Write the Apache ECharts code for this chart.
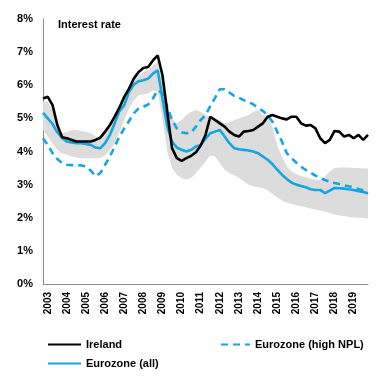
<!DOCTYPE html>
<html>
<head>
<meta charset="utf-8">
<script src="https://cdn.jsdelivr.net/npm/echarts@6/dist/echarts.min.js"></script>
<style>html,body{margin:0;padding:0;background:#fff;}#c{width:381px;height:378px;}</style>
</head>
<body>
<div id="c"></div>
<script>
// Quarterly observations, 2003Q1 .. 2020Q1
const years = [2003,2004,2005,2006,2007,2008,2009,2010,2011,2012,2013,2014,2015,2016,2017,2018,2019,2020];
const quarters = ['Q1','Q2','Q3','Q4'];
const yTicks = [0,1,2,3,4,5,6,7,8];

const ireland = [
5.6,5.65,5.4,4.8,
4.43,4.4,4.35,4.3,
4.3,4.3,4.3,4.35,
4.42,4.6,4.8,5.05,
5.33,5.65,5.9,6.2,
6.4,6.52,6.55,6.75,
6.9,6.3,5.2,4.1,
3.8,3.72,3.8,3.87,
3.98,4.18,4.5,5.05,
4.95,4.85,4.75,4.6,
4.5,4.45,4.6,4.62,
4.65,4.75,4.85,5.05,
5.1,5.05,5.0,4.97,
5.05,5.05,4.85,4.78,
4.8,4.7,4.4,4.25,
4.35,4.62,4.6,4.45,
4.5,4.4,4.5,4.35,
4.5];

const euroAll = [
5.17,5.0,4.83,4.58,
4.4,4.3,4.27,4.25,
4.25,4.23,4.2,4.12,
4.1,4.25,4.5,4.85,
5.22,5.4,5.8,6.02,
6.12,6.15,6.2,6.35,
6.45,5.6,4.75,4.3,
4.12,4.05,4.0,4.05,
4.15,4.2,4.38,4.55,
4.6,4.65,4.45,4.25,
4.1,4.07,4.05,4.03,
4.0,3.95,3.85,3.75,
3.62,3.45,3.3,3.17,
3.06,3.0,2.96,2.92,
2.86,2.84,2.84,2.74,
2.82,2.9,2.89,2.88,
2.86,2.84,2.8,2.78,
2.74];

const euroHighNPL = [
4.4,4.2,3.95,3.77,
3.65,3.6,3.59,3.59,
3.58,3.55,3.42,3.25,
3.35,3.6,3.85,4.15,
4.45,4.7,4.92,5.15,
5.3,5.35,5.42,5.6,
5.85,5.75,5.35,4.95,
4.7,4.58,4.55,4.57,
4.75,4.95,5.1,5.37,
5.62,5.88,5.88,5.78,
5.68,5.62,5.55,5.5,
5.42,5.32,5.22,5.1,
4.9,4.6,4.3,3.95,
3.8,3.66,3.54,3.44,
3.36,3.27,3.2,3.14,
3.09,3.05,3.02,2.98,
2.95,2.91,2.87,2.83,
2.79];

const bandUpper = [
5.5,5.5,5.25,4.8,
4.55,4.6,4.65,4.65,
4.62,4.6,4.55,4.45,
4.42,4.55,4.75,5.0,
5.3,5.6,5.85,6.1,
6.3,6.4,6.45,6.6,
6.7,6.1,5.4,5.0,
4.85,4.95,5.1,5.2,
5.25,5.2,5.1,5.05,
5.0,4.95,4.85,4.88,
4.95,5.0,5.05,5.1,
5.2,5.25,5.1,5.05,
4.75,4.2,3.85,3.55,
3.4,3.32,3.26,3.22,
3.18,3.15,3.14,3.25,
3.4,3.5,3.52,3.52,
3.52,3.5,3.5,3.49,
3.49];

const bandLower = [
4.65,4.45,4.25,4.05,
3.95,3.9,3.85,3.82,
3.8,3.8,3.8,3.8,
3.8,3.88,4.05,4.25,
4.6,4.95,5.3,5.55,
5.7,5.72,5.75,5.85,
5.8,5.0,4.0,3.5,
3.3,3.2,3.15,3.2,
3.35,3.52,3.7,3.88,
3.85,3.65,3.45,3.35,
3.28,3.2,3.1,3.0,
2.95,2.92,2.89,2.83,
2.72,2.62,2.52,2.46,
2.42,2.38,2.35,2.32,
2.28,2.25,2.22,2.18,
2.14,2.1,2.07,2.05,
2.02,2.01,2.0,1.99,
1.98];

const categories = [];
for (let i = 0; i < ireland.length; i++) {
  categories.push(years[Math.floor(i / 4)] + quarters[i % 4]);
}
const bandWidth = bandUpper.map((u, i) => +(u - bandLower[i]).toFixed(3));

const BLUE = '#14a6de';
const FONT = '"Liberation Sans", Arial, sans-serif';
const legendText = {fontFamily: FONT, fontSize: 11, fontWeight: 'bold', color: '#000'};
const hiddenSymbol = {opacity: 0, borderWidth: 0};

const chart = echarts.init(document.getElementById('c'), null, {renderer: 'canvas'});
chart.setOption({
  animation: false,
  backgroundColor: '#ffffff',
  textStyle: {fontFamily: FONT},
  grid: {left: 43, right: 13, top: 19, bottom: 94, containLabel: false},
  title: {
    text: 'Interest rate', left: 53, top: 14,
    textStyle: {fontFamily: FONT, fontSize: 11, fontWeight: 'bold', color: '#000'}
  },
  legend: [
    {data: ['Ireland'], left: 42, top: 334, itemWidth: 33, itemHeight: 14, itemGap: 0,
     itemStyle: hiddenSymbol, textStyle: legendText},
    {data: ['Eurozone (high NPL)'], left: 215, top: 334, itemWidth: 29, itemHeight: 14, itemGap: 0,
     itemStyle: hiddenSymbol, textStyle: legendText},
    {data: ['Eurozone (all)'], left: 42, top: 353, itemWidth: 33, itemHeight: 14, itemGap: 0,
     itemStyle: hiddenSymbol, textStyle: legendText}
  ],
  xAxis: {
    type: 'category', data: categories, boundaryGap: false,
    axisLine: {show: true, lineStyle: {color: '#8c8c8c', width: 1}},
    axisTick: {show: false},
    splitLine: {show: false},
    axisLabel: {
      rotate: 90, margin: 8, fontSize: 10, fontWeight: 'bold', color: '#000', fontFamily: FONT,
      interval: (idx) => idx % 4 === 1,
      formatter: (v) => v.slice(0, 4)
    }
  },
  yAxis: {
    type: 'value', min: yTicks[0], max: yTicks[yTicks.length - 1], interval: 1,
    axisLine: {show: true, lineStyle: {color: '#8c8c8c', width: 1}},
    axisTick: {show: false},
    splitLine: {show: false},
    axisLabel: {formatter: '{value}%', fontSize: 11, fontWeight: 'bold', color: '#000', margin: 10, fontFamily: FONT}
  },
  series: [
    {name: 'bandLow', type: 'line', data: bandLower, stack: 'band', symbol: 'none',
     lineStyle: {width: 0, opacity: 0}, areaStyle: {opacity: 0}, silent: true, z: 1},
    {name: 'bandRange', type: 'line', data: bandWidth, stack: 'band', symbol: 'none',
     lineStyle: {width: 0, opacity: 0}, areaStyle: {color: '#dcdcdc', opacity: 1}, silent: true, z: 1},
    {name: 'Ireland', type: 'line', data: ireland, symbol: 'none', showSymbol: false,
     lineStyle: {color: '#000', width: 2.6}, itemStyle: {color: '#000'}, z: 4},
    {name: 'Eurozone (high NPL)', type: 'line', data: euroHighNPL, symbol: 'none', showSymbol: false,
     lineStyle: {color: BLUE, width: 2.6, type: [7, 5]}, itemStyle: {color: BLUE}, z: 3},
    {name: 'Eurozone (all)', type: 'line', data: euroAll, symbol: 'none', showSymbol: false,
     lineStyle: {color: BLUE, width: 2.6}, itemStyle: {color: BLUE}, z: 3}
  ]
});
</script>
</body>
</html>
